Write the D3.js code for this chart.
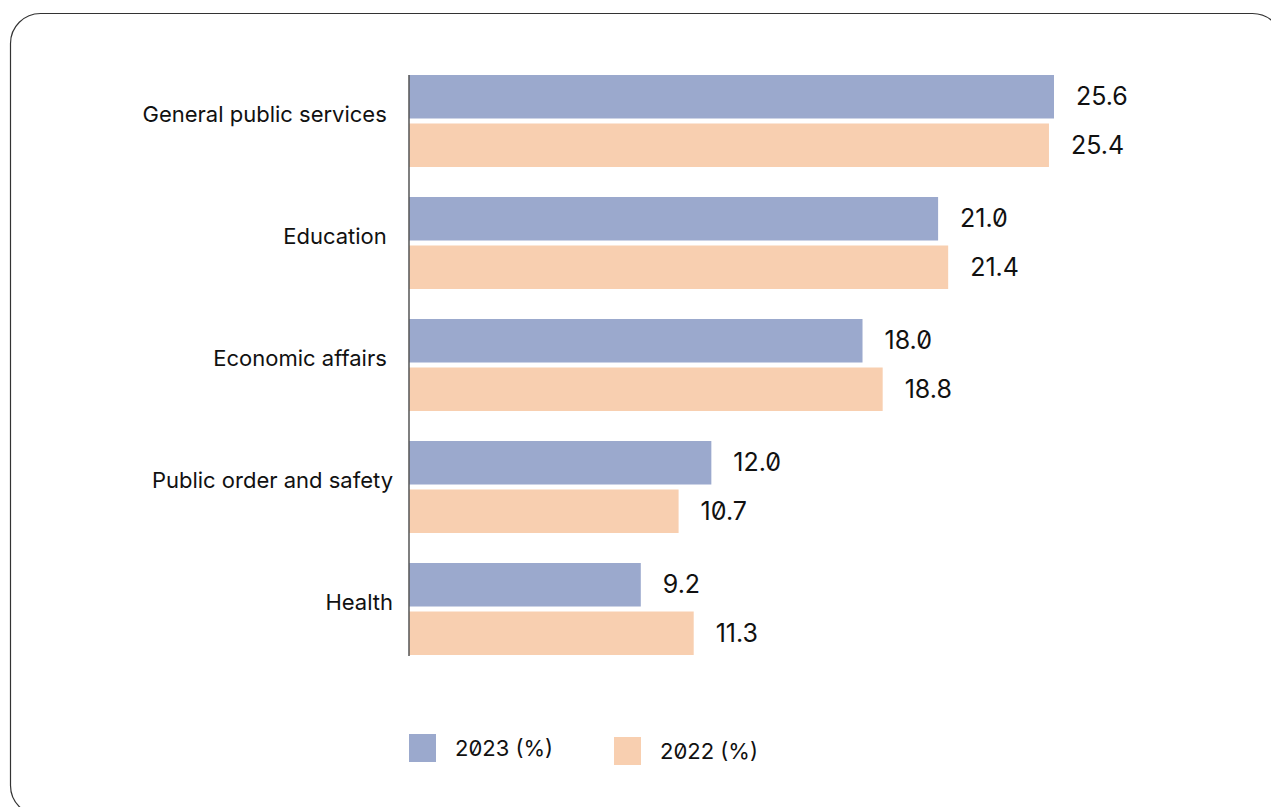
<!DOCTYPE html>
<html>
<head>
<meta charset="utf-8">
<script src="https://cdn.jsdelivr.net/npm/d3@7"></script>
<style>
  html, body { margin: 0; padding: 0; background: #fff; }
  svg { display: block; }
  text { font-family: Inter, "Noto Sans", sans-serif; fill: #111; font-feature-settings: "zero" 1; white-space: pre; }
</style>
</head>
<body>
<svg id="chart" width="1271" height="807"></svg>
<script>
// Government expenditure shares by function
const categories = ["General public services ", "Education ", "Economic affairs ", "Public order and safety", "Health"];
const seriesNames = ["2023 (%)", "2022 (%)"];
const values2023 = [25.6, 21.0, 18.0, 12.0, 9.2];
const values2022 = [25.4, 21.4, 18.8, 10.7, 11.3];
const seriesColors = ["#9ba9cd", "#f8cfb0"];

const rows = categories.map((c, i) => ({
  category: c,
  values: [
    { series: seriesNames[0], value: values2023[i] },
    { series: seriesNames[1], value: values2022[i] }
  ]
}));

const svg = d3.select("#chart");

// card outline
svg.append("rect")
  .attr("x", 10.5).attr("y", 13.5)
  .attr("width", 1272).attr("height", 802)
  .attr("rx", 30).attr("ry", 30)
  .attr("fill", "none")
  .attr("stroke", "#333")
  .attr("stroke-width", 1.2);

const x = d3.scaleLinear().domain([0, 25.6]).range([409, 1054]);

const y0 = d3.scaleBand()
  .domain(categories)
  .range([75, 655])
  .paddingInner(0.246)
  .paddingOuter(0);

const y1 = d3.scaleBand()
  .domain(seriesNames)
  .range([0, y0.bandwidth()])
  .paddingInner(0.103)
  .paddingOuter(0);

const color = d3.scaleOrdinal().domain(seriesNames).range(seriesColors);

const groups = svg.append("g").selectAll("g")
  .data(rows)
  .join("g")
  .attr("transform", d => `translate(0,${y0(d.category)})`);

groups.selectAll("rect")
  .data(d => d.values)
  .join("rect")
  .attr("x", x(0))
  .attr("y", d => y1(d.series))
  .attr("width", d => x(d.value) - x(0))
  .attr("height", y1.bandwidth())
  .attr("fill", d => color(d.series));

groups.selectAll("text.value")
  .data(d => d.values)
  .join("text")
  .attr("class", "value")
  .attr("x", d => x(d.value) + 22)
  .attr("y", d => y1(d.series) + y1.bandwidth() / 2)
  .attr("dy", "0.35em")
  .attr("font-size", 25)
  .text(d => d.value.toFixed(1));

// category axis on the left
const yAxis = d3.axisLeft(y0).tickSize(0).tickPadding(16);
const axisG = svg.append("g")
  .attr("transform", `translate(${x(0)},0)`)
  .call(yAxis);
axisG.select(".domain")
  .attr("stroke", "#555")
  .attr("stroke-width", 1.5)
  .attr("d", `M0,${y0.range()[0]}V${y0.range()[1] + 1}`);
axisG.selectAll(".tick text")
  .attr("font-family", null)
  .attr("font-size", 22)
  .attr("fill", "#111")
  .attr("dy", "0.05em");

// legend
const legend = svg.append("g").selectAll("g")
  .data(seriesNames)
  .join("g")
  .attr("transform", (d, i) => `translate(${409 + i * 205},${734 + i * 3})`);
legend.append("rect")
  .attr("width", 27).attr("height", 28)
  .attr("fill", d => color(d));
legend.append("text")
  .attr("x", 46)
  .attr("y", 14)
  .attr("dy", "0.35em")
  .attr("font-size", 22)
  .text(d => d);
</script>
</body>
</html>
